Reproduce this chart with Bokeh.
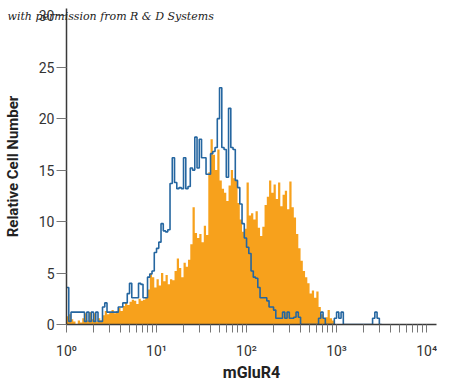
import numpy as np
from bokeh.plotting import figure
from bokeh.models import Range1d, FixedTicker, Title
from bokeh.embed import file_html
from bokeh.resources import INLINE

# histogram bins: 1/40 decade from 10^0
BIN_DECADES = 0.025
N_BINS = 140

# Orange: mGluR4 antibody staining (relative cell number per bin)
orange_counts = [
    0.8, 1.0, 0.5, 0.3, 0.0, 0.4, 0.2, 0.6, 1.1, 0.4,
    1.2, 0.5, 1.1, 0.3, 0.6, 0.4, 0.9, 1.3, 1.0, 1.2,
    1.4, 1.1, 1.3, 1.6, 1.3, 1.8, 2.1, 1.9, 2.2, 2.4,
    2.3, 2.0, 2.5, 2.3, 2.4, 2.6, 3.4, 5.0, 4.6, 3.6,
    4.4, 3.8, 5.0, 4.2, 4.8, 3.9, 4.4, 4.3, 5.2, 6.4,
    5.5, 4.6, 6.0, 5.6, 6.3, 7.8, 11.4, 8.9, 8.4, 8.8,
    8.0, 9.6, 8.7, 14.8, 18.0, 16.5, 15.0, 17.0, 14.0, 13.2,
    12.8, 12.0, 13.5, 15.0, 14.2, 14.0, 11.8, 10.2, 9.0, 9.3,
    13.8, 10.6, 10.8, 10.2, 11.0, 9.4, 8.6, 9.5, 11.6, 12.4,
    14.0, 12.8, 13.6, 12.2, 13.8, 11.5, 12.6, 13.0, 11.2, 13.9,
    11.4, 10.4, 8.8, 7.4, 6.2, 5.2, 4.6, 4.0, 3.0, 3.3,
    2.6, 3.2, 1.7, 1.0, 0.6, 0.7, 1.4, 0.6, 0.4, 0.0,
    0.0, 0.0, 0.0, 0.0, 0.0, 0.0, 0.0, 0.0, 0.0, 0.0,
    0.0, 0.0, 0.0, 0.0, 0.0, 0.0, 0.0, 0.0, 0.0, 0.0,
]

# Blue: isotype control
blue_counts = [
    3.6, 0.3, 1.2, 1.2, 1.2, 1.2, 1.2, 1.2, 0.3, 1.2,
    0.3, 1.2, 0.3, 1.2, 0.3, 0.3, 1.7, 2.1, 1.2, 1.2,
    1.2, 1.2, 1.2, 1.7, 1.7, 2.1, 2.1, 3.0, 4.0, 2.6,
    2.6, 2.6, 4.0, 3.9, 2.6, 2.6, 4.6, 4.9, 5.2, 7.0,
    7.4, 8.0, 9.8, 9.1, 9.0, 9.2, 13.7, 16.2, 13.8, 13.2,
    13.3, 13.2, 16.2, 13.2, 13.4, 15.2, 15.0, 18.2, 15.2, 18.0,
    16.2, 16.2, 14.6, 14.6, 16.6, 16.8, 17.2, 20.0, 23.0, 17.2,
    17.0, 14.3, 21.0, 17.2, 17.0, 14.0, 13.3, 11.7, 9.8, 8.4,
    7.5, 6.9, 5.2, 4.6, 4.5, 3.6, 2.6, 2.6, 2.6, 2.3,
    1.7, 1.7, 1.4, 0.6, 0.6, 0.6, 1.2, 0.6, 1.2, 0.6,
    0.6, 0.7, 1.2, 0.7, 0.0, 0.0, 0.0, 0.0, 0.0, 0.0,
    0.0, 0.0, 0.6, 1.2, 0.6, 0.0, 0.0, 0.0, 0.0, 0.6,
    1.2, 0.6, 1.2, 0.0, 0.0, 0.0, 0.0, 0.0, 0.0, 0.0,
    0.0, 0.0, 0.0, 0.0, 0.0, 0.0, 0.6, 1.2, 0.6, 0.0,
]

x_tick_values = [1, 10, 100, 1000, 10000]
x_tick_labels = ["10\u2070", "10\u00b9", "10\u00b2", "10\u00b3", "10\u2074"]
y_tick_values = [0, 5, 10, 15, 20, 25, 30]

edges = 10 ** (np.arange(N_BINS + 1) * BIN_DECADES)

ORANGE = "#f7a11c"
BLUE = "#2566a0"
AXIS = "#3a3a3a"
FONT = "Roboto"

p = figure(width=437, height=397, x_axis_type="log",
           output_backend="svg", toolbar_location=None,
           x_range=Range1d(1, 10 ** 4.11), y_range=Range1d(0, 30.7),
           min_border_left=65, min_border_right=1,
           min_border_top=0, min_border_bottom=73)
p.outline_line_color = None
p.grid.grid_line_color = None

p.varea_step(x=edges, y1=0, y2=np.append(orange_counts, 0.0), step_mode="after",
             fill_color=ORANGE)
p.step(x=edges, y=np.append(blue_counts, 0.0), mode="after",
       line_color=BLUE, line_width=1.6)

minor = [m * 10 ** k for k in range(4) for m in range(2, 10)]
p.xaxis.ticker = FixedTicker(ticks=x_tick_values, minor_ticks=minor)
p.xaxis.major_label_overrides = {v: s for v, s in zip(x_tick_values, x_tick_labels)}
p.yaxis.ticker = FixedTicker(ticks=y_tick_values)

for ax in (p.xaxis, p.yaxis):
    ax.axis_line_color = AXIS
    ax.axis_line_width = 1.5
    ax.major_tick_line_color = "#777777"
    ax.minor_tick_line_color = "#777777"
    ax.major_tick_in = 0
    ax.minor_tick_in = 0
    ax.major_label_text_font = FONT
    ax.major_label_text_font_size = "14px"
    ax.major_label_text_color = "#333333"
    ax.axis_label_text_font = FONT
    ax.axis_label_text_font_style = "bold"
    ax.axis_label_text_color = "#222222"

p.xaxis.major_tick_out = 8
p.xaxis.minor_tick_out = 8
p.xaxis.major_label_standoff = 10
p.xaxis.axis_label = "mGluR4"
p.xaxis.axis_label_text_font_size = "16px"
p.xaxis.axis_label_standoff = 1

p.yaxis.major_tick_out = 10
p.yaxis.minor_tick_out = 0
p.yaxis.major_label_standoff = 2
p.yaxis.axis_label = "Relative Cell Number"
p.yaxis.axis_label_text_font_size = "15px"
p.yaxis.axis_label_standoff = 14

note = Title(text="\n\nwith permission from R & D Systems", align="left",
             offset=-59, standoff=-33.5, vertical_align="top",
             text_font="DejaVu Serif", text_font_style="italic",
             text_font_size="11px", text_color="#222222")
p.add_layout(note, "above")

open("out.html", "w").write(file_html(p, INLINE))
